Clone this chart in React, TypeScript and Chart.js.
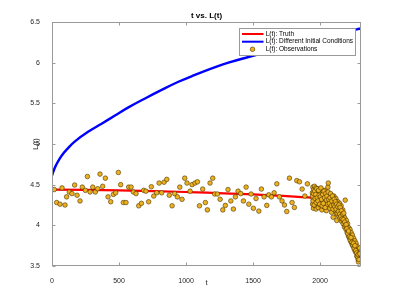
import React, { useEffect, useRef } from "react";
import { Chart, registerables } from "chart.js";

Chart.register(...registerables);

const titleText = "t vs. L(t)";
const xLabel = "t";
const yLabel = "L(t)";
const xTicks = [0, 500, 1000, 1500, 2000];
const yTicks = [3.5, 4, 4.5, 5, 5.5, 6, 6.5];
const xMin = 0;
const xMax = 2305;
const yMin = 3.5;
const yMax = 6.5;

const labelTruth = "L(t): Truth";
const labelDiff = "L(t): Different Initial Conditions";
const labelObs = "L(t): Observations";

const truthT = [0, 500, 1000, 1500, 1990];
const truthL = [4.44, 4.43, 4.41, 4.38, 4.335];

const diffT = [0, 10, 30, 69, 120, 169, 269, 370, 470, 570, 694, 818, 943, 1067, 1192, 1316, 1465, 1600, 1800, 2000, 2150, 2274, 2305];
const diffL = [4.61, 4.66, 4.74, 4.85, 4.95, 5.03, 5.15, 5.25, 5.35, 5.45, 5.56, 5.665, 5.765, 5.85, 5.93, 6.0, 6.07, 6.13, 6.22, 6.3, 6.36, 6.41, 6.42];

const obsEarlyT = [17, 35, 60, 75, 97, 109, 129, 149, 169, 187, 209, 226, 249, 264, 284, 304, 323, 341, 358, 378, 398, 418, 438, 458, 475, 495, 512, 532, 552, 572, 590, 607, 627, 647, 667, 684, 701, 721, 741, 759, 781, 799, 818, 836, 856, 875, 896, 915, 935, 953, 970, 990, 1007, 1030, 1045, 1067, 1085, 1100, 1124, 1144, 1159, 1179, 1199, 1214, 1234, 1254, 1274, 1293, 1313, 1334, 1353, 1368, 1388, 1408, 1428, 1448, 1468, 1485, 1502, 1522, 1543, 1562, 1582, 1602, 1617, 1637, 1657, 1677, 1696, 1716, 1734, 1751, 1771, 1791, 1808, 1826, 1846, 1866, 1886, 1905];
const obsEarlyL = [4.44, 4.28, 4.26, 4.46, 4.25, 4.35, 4.41, 4.39, 4.495, 4.37, 4.3, 4.47, 4.43, 4.6, 4.41, 4.47, 4.41, 4.45, 4.63, 4.48, 4.58, 4.35, 4.29, 4.38, 4.4, 4.65, 4.5, 4.28, 4.28, 4.47, 4.47, 4.41, 4.39, 4.24, 4.27, 4.43, 4.42, 4.29, 4.475, 4.36, 4.4, 4.52, 4.4, 4.53, 4.565, 4.37, 4.24, 4.39, 4.35, 4.47, 4.32, 4.58, 4.52, 4.42, 4.5, 4.52, 4.535, 4.24, 4.446, 4.28, 4.19, 4.52, 4.58, 4.385, 4.385, 4.32, 4.19, 4.245, 4.44, 4.3, 4.2, 4.35, 4.42, 4.39, 4.3, 4.47, 4.26, 4.385, 4.21, 4.33, 4.175, 4.446, 4.35, 4.245, 4.375, 4.35, 4.4, 4.51, 4.35, 4.3, 4.25, 4.17, 4.58, 4.28, 4.22, 4.55, 4.535, 4.446, 4.36, 4.51];

const obsLateT = [1942, 1944, 1946, 1948, 1950, 1952, 1954, 1956, 1958, 1960, 1962, 1964, 1966, 1968, 1970, 1972, 1974, 1976, 1978, 1980, 1983, 1986, 1989, 1992, 1995, 1998, 2001, 2004, 2007, 2010, 2013, 2016, 2019, 2022, 2025, 2028, 2031, 2034, 2037, 2040, 2043, 2046, 2049, 2052, 2055, 2058, 2061, 2064, 2067, 2070, 2073, 2076, 2079, 2082, 2085, 2088, 2091, 2094, 2097, 2100, 2103, 2106, 2109, 2112, 2115, 2118, 2121, 2124, 2127, 2130, 2133, 2136, 2139, 2142, 2145, 2148, 2151, 2154, 2157, 2160, 2163, 2166, 2169, 2172, 2175, 2178, 2181, 2184, 2187, 2190, 2193, 2196, 2199, 2202, 2205, 2208, 2211, 2214, 2217, 2220, 2223, 2226, 2229, 2232, 2235, 2238, 2241, 2244, 2247, 2250, 2253, 2256, 2259, 2262, 2265, 2268, 2271, 2274, 2277, 2280, 2283, 2286, 2289, 2292, 2295, 2298, 2300];
const obsLateL = [4.4, 4.26, 4.47, 4.33, 4.21, 4.44, 4.37, 4.29, 4.48, 4.35, 4.24, 4.41, 4.31, 4.46, 4.2, 4.38, 4.33, 4.43, 4.27, 4.36, 4.45, 4.22, 4.39, 4.3, 4.42, 4.34, 4.25, 4.4, 4.31, 4.44, 4.19, 4.36, 4.28, 4.41, 4.33, 4.23, 4.38, 4.3, 4.43, 4.26, 4.35, 4.18, 4.4, 4.29, 4.34, 4.47, 4.52, 4.24, 4.37, 4.3, 4.21, 4.38, 4.27, 4.33, 4.16, 4.35, 4.25, 4.31, 4.1, 4.28, 4.36, 4.21, 4.3, 4.18, 4.26, 4.33, 4.14, 4.06, 4.24, 4.19, 4.29, 4.12, 4.22, 4.17, 4.27, 4.09, 4.2, 4.13, 4.24, 4.05, 4.16, 4.1, 4.19, 4.02, 4.12, 4.06, 3.98, 4.09, 4.31, 4.03, 3.95, 4.06, 3.99, 3.91, 4.02, 3.94, 3.87, 3.97, 3.9, 3.84, 3.95, 3.87, 3.8, 3.91, 3.83, 3.77, 3.88, 3.8, 3.74, 3.84, 3.76, 3.7, 3.81, 3.73, 3.67, 3.78, 3.7, 3.62, 3.74, 3.66, 3.58, 3.55, 3.69, 3.62, 3.72, 3.6, 3.67];

const obsExtraT = [1943, 1947, 1951, 1955, 1959, 1963, 1967, 1971, 1975, 1979, 1984, 1988, 1993, 1997, 2002, 2006, 2011, 2015, 2020, 2024, 2029, 2033, 2038, 2042, 2047, 2051, 2056, 2060, 2065, 2069, 2074, 2078, 2083, 2087, 2092, 2096, 2101, 2105, 2110, 2114, 2119, 2123, 2128, 2132, 2137, 2141, 2146, 2150, 2155, 2159, 2164, 2168, 2173, 2177, 2183, 2188, 2194, 2200, 2206, 2212, 2218, 2224, 2230, 2236, 2242, 2248, 2254, 2260, 2266, 2272, 2278, 2284, 2290, 2296];
const obsExtraL = [4.36, 4.3, 4.39, 4.25, 4.42, 4.33, 4.38, 4.28, 4.45, 4.34, 4.3, 4.43, 4.37, 4.26, 4.35, 4.46, 4.32, 4.24, 4.38, 4.27, 4.42, 4.34, 4.22, 4.39, 4.31, 4.36, 4.26, 4.41, 4.32, 4.27, 4.34, 4.39, 4.24, 4.3, 4.36, 4.2, 4.25, 4.32, 4.23, 4.29, 4.2, 4.26, 4.15, 4.23, 4.17, 4.25, 4.14, 4.22, 4.11, 4.18, 4.08, 4.14, 4.07, 4.15, 4.04, 4.0, 4.01, 3.96, 3.9, 3.93, 3.86, 3.82, 3.85, 3.79, 3.76, 3.78, 3.72, 3.75, 3.69, 3.66, 3.62, 3.64, 3.58, 3.65];

const FONT = "'Liberation Sans', Arial, Helvetica, sans-serif";
const RED = "#FF0000";
const BLUE = "#0000FF";
const OBS_FILL = "#EDB120";
const OBS_EDGE = "#4a3400";

const pairs = (ts: number[], ls: number[]) => ts.map((t, i) => ({ x: t, y: ls[i] }));

const framePlugin = {
  id: "matlabFrame",
  afterDatasetsDraw(chart: any) {
    const { ctx, chartArea: a, scales } = chart;
    const xs = scales.x;
    const ys = scales.y;
    ctx.save();
    ctx.strokeStyle = "#9a9a9a";
    ctx.lineWidth = 1;
    const L = Math.round(a.left) + 0.5;
    const R = Math.round(a.right) - 0.5;
    const T = Math.round(a.top) + 0.5;
    const B = Math.round(a.bottom) - 0.5;
    ctx.strokeRect(L, T, R - L, B - T);
    ctx.beginPath();
    const tl = 3;
    xTicks.forEach((v) => {
      const px = Math.round(xs.getPixelForValue(v)) + 0.5;
      ctx.moveTo(px, B);
      ctx.lineTo(px, B - tl);
      ctx.moveTo(px, T);
      ctx.lineTo(px, T + tl);
    });
    yTicks.forEach((v) => {
      const py = Math.round(ys.getPixelForValue(v)) + 0.5;
      ctx.moveTo(L, py);
      ctx.lineTo(L + tl, py);
      ctx.moveTo(R, py);
      ctx.lineTo(R - tl, py);
    });
    ctx.stroke();

    const cx = (a.left + a.right) / 2;
    ctx.fillStyle = "#000";
    ctx.font = `bold 8px ${FONT}`;
    ctx.textAlign = "center";
    ctx.textBaseline = "middle";
    ctx.fillText(titleText, cx, a.top - 6);

    ctx.fillStyle = "#262626";
    ctx.font = `7.5px ${FONT}`;
    ctx.fillText(xLabel, cx, a.bottom + 17);
    ctx.save();
    ctx.translate(a.left - 16, (a.top + a.bottom) / 2);
    ctx.rotate(-Math.PI / 2);
    ctx.fillText(yLabel, 0, 0);
    ctx.restore();

    const lx0 = 239.5;
    const ly0 = 28.5;
    const lw = 116;
    const lh = 27;
    ctx.fillStyle = "#fff";
    ctx.fillRect(lx0, ly0, lw, lh);
    ctx.strokeStyle = "#9a9a9a";
    ctx.lineWidth = 1;
    ctx.strokeRect(lx0, ly0, lw, lh);
    const rows = [34, 41.7, 49.3];
    const ds = chart.data.datasets;
    const entries = [ds[1], ds[2], ds[0]];
    entries.forEach((d: any, i: number) => {
      const y = rows[i];
      if (d.type === "scatter") {
        ctx.beginPath();
        ctx.arc(252.5, y, 2.3, 0, Math.PI * 2);
        ctx.fillStyle = OBS_FILL;
        ctx.fill();
        ctx.lineWidth = 0.6;
        ctx.strokeStyle = OBS_EDGE;
        ctx.stroke();
      } else {
        ctx.beginPath();
        ctx.moveTo(242, y);
        ctx.lineTo(263.5, y);
        ctx.strokeStyle = d.borderColor;
        ctx.lineWidth = 2;
        ctx.stroke();
      }
      ctx.fillStyle = "#000";
      ctx.font = `6.5px ${FONT}`;
      ctx.textAlign = "left";
      ctx.textBaseline = "middle";
      ctx.fillText(d.label, 265.7, y);
    });
    ctx.restore();
  },
};

export default function App() {
  const ref = useRef<HTMLCanvasElement | null>(null);
  useEffect(() => {
    if (!ref.current) return;
    const chart = new Chart(ref.current, {
      type: "scatter",
      data: {
        datasets: [
          {
            type: "scatter",
            label: labelObs,
            data: [...pairs(obsEarlyT, obsEarlyL), ...pairs(obsLateT, obsLateL), ...pairs(obsExtraT, obsExtraL)],
            backgroundColor: OBS_FILL,
            borderColor: OBS_EDGE,
            borderWidth: 0.6,
            pointRadius: 2.3,
            order: 0,
          },
          {
            type: "line",
            label: labelTruth,
            data: pairs(truthT, truthL),
            borderColor: RED,
            backgroundColor: RED,
            borderWidth: 2.2,
            pointRadius: 0,
            tension: 0.4,
            fill: false,
            order: 2,
          },
          {
            type: "line",
            label: labelDiff,
            data: pairs(diffT, diffL),
            borderColor: BLUE,
            backgroundColor: BLUE,
            borderWidth: 2.4,
            pointRadius: 0,
            tension: 0.4,
            fill: false,
            order: 1,
          },
        ] as any,
      },
      options: {
        responsive: false,
        animation: false,
        layout: { padding: { left: 0, right: 38, top: 22, bottom: 0 } },
        plugins: {
          legend: { display: false },
          title: { display: false },
          tooltip: { enabled: false },
        },
        scales: {
          x: {
            type: "linear",
            min: xMin,
            max: xMax,
            afterBuildTicks: (s: any) => {
              s.ticks = xTicks.map((v) => ({ value: v }));
            },
            afterFit: (s: any) => {
              s.height = 33;
            },
            grid: { display: false },
            border: { display: false },
            ticks: {
              font: { family: FONT, size: 7 },
              color: "#262626",
              padding: 3,
              maxRotation: 0,
              autoSkip: false,
              callback: (v: any) => String(v),
            },
          },
          y: {
            type: "linear",
            min: yMin,
            max: yMax,
            afterBuildTicks: (s: any) => {
              s.ticks = yTicks.map((v) => ({ value: v }));
            },
            afterFit: (s: any) => {
              s.width = 52;
            },
            grid: { display: false },
            border: { display: false },
            ticks: {
              font: { family: FONT, size: 7 },
              color: "#262626",
              padding: 4,
              autoSkip: false,
              callback: (v: any) => String(v),
            },
          },
        },
      } as any,
      plugins: [framePlugin],
    });
    return () => chart.destroy();
  }, []);
  return (
    <div style={{ position: "fixed", left: 0, top: 0, width: 399, height: 299, background: "#fff" }}>
      <canvas ref={ref} width={399} height={299} style={{ display: "block", width: 399, height: 299 }} />
    </div>
  );
}
